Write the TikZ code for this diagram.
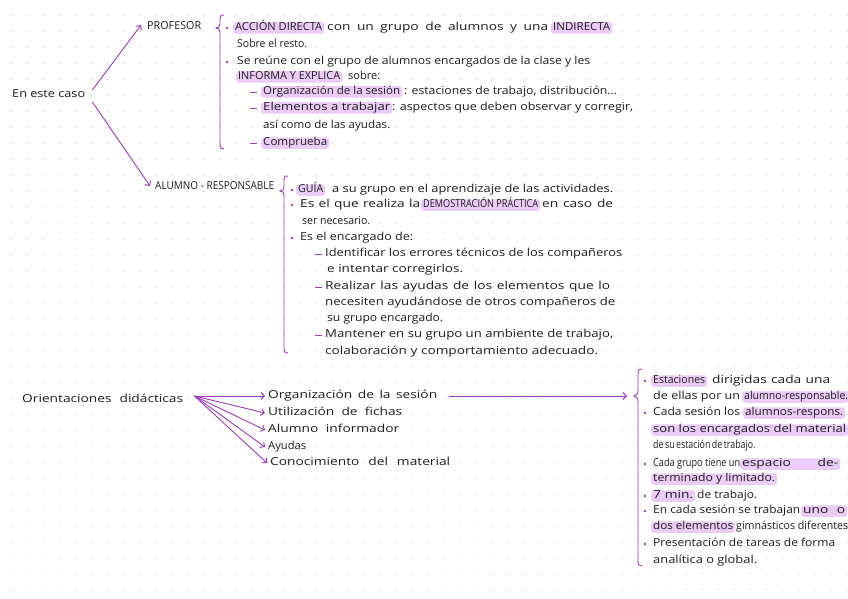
\documentclass[tikz,border=0pt]{standalone}
\usepackage{fontspec}
\setmainfont{Open Sans}
\usepackage{tikz}
\usetikzlibrary{arrows.meta}
\definecolor{ink}{HTML}{9B3DB6}
\definecolor{mark}{HTML}{EBCBF7}
\definecolor{dotc}{HTML}{D6D6D6}
\definecolor{pen}{HTML}{1E1E1E}
\newsavebox\fitbox
\newlength\fitdim
\newcommand{\fitw}[2]{%
    \sbox\fitbox{#2}\setlength\fitdim{\wd\fitbox}%
    \pgfmathsetmacro\fitf{max(0.8,min(1.25,#1/(\fitdim/1pt)))}%
    \pgfmathsetmacro\fitn{#1/\fitf}%
    \scalebox{\fitf}[1]{\makebox[\fitn pt][s]{#2}}}

\begin{document}
\begin{tikzpicture}[x=1pt, y=-1pt,
    txt/.style={anchor=west, inner sep=0pt, text=pen, text height=7.5pt, text depth=2pt,
                font=\fontsize{11}{13}\selectfont},
    hl/.style={txt, fill=mark, rounded corners=3pt, inner xsep=2pt, inner ysep=1pt},
    arr/.style={-{Straight Barb[length=3.5pt,width=7pt]}, ink, line width=0.9pt},
    brace/.style={ink, line width=0.9pt}]

    \fill[white] (0,0) rectangle (848,599);
    \useasboundingbox (0,0) rectangle (848,599);
    \foreach \i in {0,...,52}
        \foreach \j in {0,...,36}
            \fill[dotc] ({10.8+16.08*\i},{15.7+15.95*\j}) circle (0.75pt);

    % en este caso
    \node[txt] (caso) at (12,95) {\fitw{73}{En este caso}};
    \node[txt] (prof) at (147,27) {\fitw{54}{PROFESOR}};
    \node[txt] (alum) at (155,187) {\fitw{119}{ALUMNO - RESPONSABLE}};

    \draw[arr] ([shift={(7,-5)}]caso.east) -- ([shift={(-6,-2)}]prof.west);
    \draw[arr] ([shift={(7,7)}]caso.east) -- ([shift={(-5,-1)}]alum.west);

    \draw[brace] (224,15) .. controls (220,15) and (220,17) .. (220,21) -- (220,24)
        .. controls (220,27) and (218,28) .. (216,28) .. controls (218,28) and (220,29) .. (220,32)
        -- (220,144) .. controls (220,148) and (221,149) .. (224,149);

    \foreach \p in {(227,28),(227,62)} \fill[ink] \p circle (1.3pt);
    \foreach \y in {92,108,143} \draw[ink, line width=0.9pt] (250,\y) -- (257,\y);

    \node[hl] (pr1a) at (233,28) {\fitw{87}{ACCIÓN DIRECTA}};
    \node[txt] (pr1b) at (327,28) {\fitw{221}{con un grupo de alumnos y una}};
    \node[hl] (pr1c) at (551,28) {\fitw{57}{INDIRECTA}};
    \node[txt] (pr2) at (237,45) {\fitw{70}{Sobre el resto.}};
    \node[txt] (pr3) at (237,62) {\fitw{353}{Se reúne con el grupo de alumnos encargados de la clase y les}};
    \node[hl] (pr4a) at (236,77) {\fitw{102}{INFORMA Y EXPLICA}};
    \node[txt] (pr4b) at (348,77) {\fitw{32}{sobre:}};
    \node[hl] (pr5a) at (261,92) {\fitw{137}{Organización de la sesión}};
    \node[txt] (pr5b) at (404,92) {\fitw{213}{: estaciones de trabajo, distribución...}};
    \node[hl] (pr6a) at (261,108) {\fitw{127}{Elementos a trabajar}};
    \node[txt] (pr6b) at (392,108) {\fitw{241}{: aspectos que deben observar y corregir,}};
    \node[txt] (pr7) at (263,126) {\fitw{127}{así como de las ayudas.}};
    \node[hl] (pr8) at (261,143) {\fitw{64}{Comprueba}};

    % alumno - responsable
    \draw[brace] (288,176) .. controls (284,176) and (284,178) .. (284,182) -- (284,186)
        .. controls (284,190) and (282,191) .. (280,191) .. controls (282,191) and (284,192) .. (284,196)
        -- (284,348) .. controls (284,352) and (285,353) .. (288,353);

    \foreach \p in {(292,190),(292,205),(292,238)} \fill[ink] \p circle (1.3pt);
    \foreach \y in {254,287,335} \draw[ink, line width=0.9pt] (315,\y) -- (322,\y);

    \node[hl] (al1a) at (296,190) {\fitw{25}{GUÍA}};
    \node[txt] (al1b) at (332,190) {\fitw{281}{a su grupo en el aprendizaje de las actividades.}};
    \node[txt] (al2a) at (300,205) {\fitw{120}{Es el que realiza la}};
    \node[hl] (al2b) at (421,205) {\fitw{115}{DEMOSTRACIÓN PRÁCTICA}};
    \node[txt] (al2c) at (542,205) {\fitw{71}{en caso de}};
    \node[txt] (al3) at (302,222) {\fitw{68}{ser necesario.}};
    \node[txt] (al4) at (300,238) {\fitw{113}{Es el encargado de:}};
    \node[txt] (al5) at (325,254) {\fitw{297}{Identificar los errores técnicos de los compañeros}};
    \node[txt] (al6) at (327,270) {\fitw{136}{e intentar corregirlos.}};
    \node[txt] (al7) at (325,287) {\fitw{285}{Realizar las ayudas de los elementos que lo}};
    \node[txt] (al8) at (325,303) {\fitw{290}{necesiten ayudándose de otros compañeros de}};
    \node[txt] (al9) at (327,319) {\fitw{116}{su grupo encargado.}};
    \node[txt] (al10) at (325,335) {\fitw{288}{Mantener en su grupo un ambiente de trabajo,}};
    \node[txt] (al11) at (325,352) {\fitw{273}{colaboración y comportamiento adecuado.}};

    % orientaciones didacticas
    \node[txt] (orient) at (22,400) {\fitw{161}{Orientaciones didácticas}};
    \node[txt] (o1) at (268,396) {\fitw{169}{Organización de la sesión}};
    \node[txt] (o2) at (268,413) {\fitw{134}{Utilización de fichas}};
    \node[txt] (o3) at (268,430) {\fitw{131}{Alumno informador}};
    \node[txt] (o4) at (268,447) {\fitw{38}{Ayudas}};
    \node[txt] (o5) at (270,463) {\fitw{180}{Conocimiento del material}};

    \foreach \o in {o1,o2,o3,o4,o5}
        \draw[arr] ([shift={(11,-4)}]orient.east) -- ([xshift=-3]\o.west);

    \coordinate (b3) at (627,396);
    \draw[arr] ([xshift=12]o1.east) -- (b3);

    \draw[brace] (642,369) .. controls (638,369) and (638,371) .. (638,375) -- (638,390)
        .. controls (638,394) and (636,396) .. (634,396) .. controls (636,396) and (638,398) .. (638,402)
        -- (638,561) .. controls (638,565) and (639,566) .. (642,566);

    \foreach \p in {(645,381),(645,413),(645,464),(645,496),(645,511),(645,544)} \fill[ink] \p circle (1.3pt);

    \node[hl] (es1a) at (651,381) {\fitw{52}{Estaciones}};
    \node[txt] (es1b) at (712,381) {\fitw{118}{dirigidas cada una}};
    \node[txt] (es2a) at (653,397) {\fitw{87}{de ellas por un}};
    \node[hl] (es2b) at (742,397) {\fitw{104}{alumno-responsable.}};
    \node[txt] (es3a) at (653,413) {\fitw{87}{Cada sesión los}};
    \node[hl] (es3b) at (743,413) {\fitw{98}{alumnos-respons.}};
    \node[hl] (es4) at (651,430) {\fitw{193}{son los encargados del material}};
    \node[txt] (es5) at (653,446) {\fitw{100}{de su estación de trabajo.}};
    \node[txt] (es6a) at (653,464) {\fitw{87}{Cada grupo tiene un}};
    \node[hl] (es6b) at (740,464) {\fitw{96}{espacio de-}};
    \node[hl] (es7) at (651,479) {\fitw{122}{terminado y limitado.}};
    \node[hl] (es8a) at (651,496) {\fitw{40}{7 min.}};
    \node[txt] (es8b) at (697,496) {\fitw{60}{de trabajo.}};
    \node[txt] (es9a) at (653,511) {\fitw{147}{En cada sesión se trabajan}};
    \node[hl] (es9b) at (801,511) {\fitw{42}{uno o}};
    \node[hl] (es10a) at (651,527) {\fitw{80}{dos elementos}};
    \node[txt] (es10b) at (736,527) {\fitw{112}{gimnásticos diferentes}};
    \node[txt] (es11) at (653,544) {\fitw{182}{Presentación de tareas de forma}};
    \node[txt] (es12) at (653,561) {\fitw{104}{analítica o global.}};

\end{tikzpicture}
\end{document}
